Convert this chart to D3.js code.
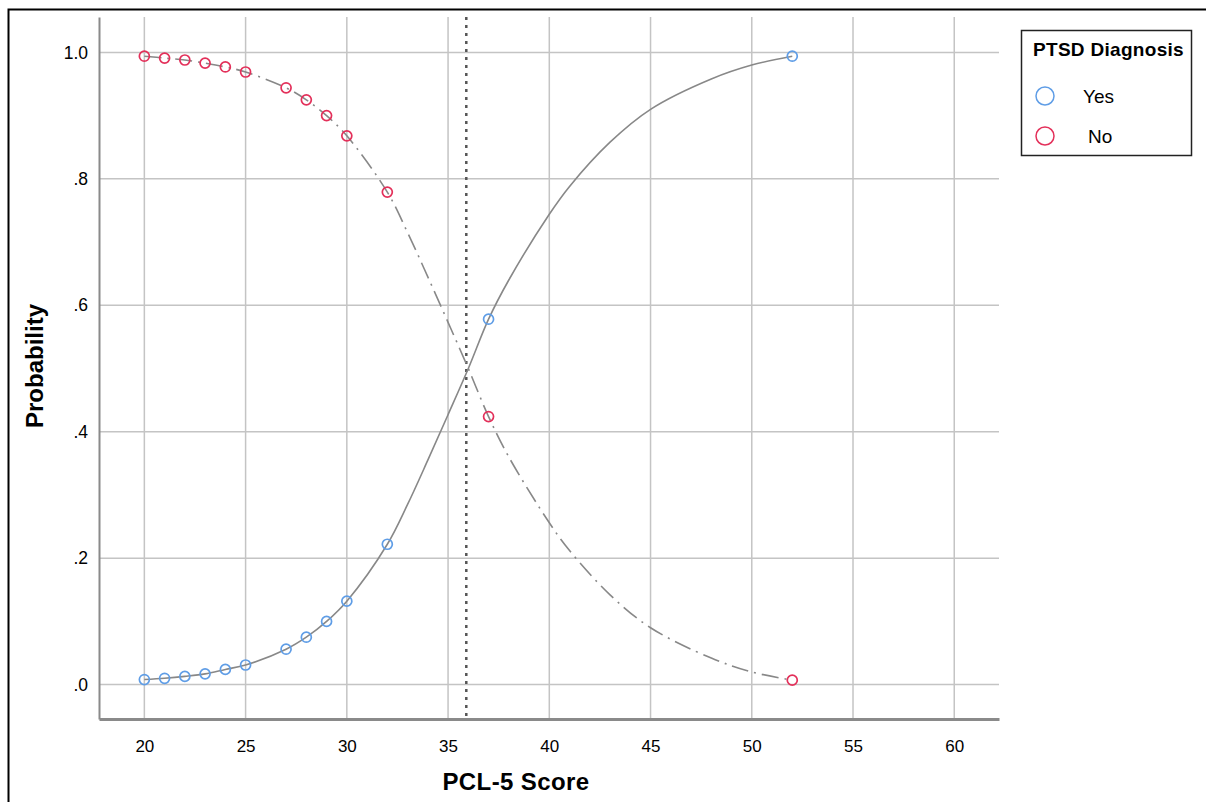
<!DOCTYPE html>
<html>
<head>
<meta charset="utf-8">
<script src="https://cdn.jsdelivr.net/npm/d3@7"></script>
<style>
  body { margin: 0; background: #fff; }
  text { font-family: "Liberation Sans", Arial, sans-serif; fill: #000; }
</style>
</head>
<body>
<svg id="chart" width="1206" height="802"></svg>
<script>
// PCL-5 scores observed
const scores = [20, 21, 22, 23, 24, 25, 27, 28, 29, 30, 32, 37, 52];
// predicted probability, PTSD = Yes
const probYes = [0.008, 0.010, 0.013, 0.017, 0.024, 0.031, 0.056, 0.075, 0.100, 0.132, 0.222, 0.578, 0.994];
// predicted probability, PTSD = No
const probNo = [0.994, 0.991, 0.988, 0.983, 0.977, 0.969, 0.944, 0.925, 0.900, 0.868, 0.779, 0.424, 0.007];

// interpolation lines at these scores
const lineScores = [20, 21, 22, 23, 24, 25, 27, 28, 29, 30, 32, 33, 34, 35, 36, 37, 38, 40, 41, 43, 45, 48, 50, 52];
const lineYes = [0.008, 0.010, 0.013, 0.017, 0.024, 0.031, 0.056, 0.075, 0.100, 0.132, 0.222, 0.285, 0.355, 0.427, 0.500, 0.578, 0.640, 0.744, 0.788, 0.858, 0.910, 0.958, 0.980, 0.994];
const lineNo = [0.994, 0.991, 0.988, 0.983, 0.977, 0.969, 0.944, 0.925, 0.900, 0.868, 0.779, 0.715, 0.645, 0.573, 0.500, 0.424, 0.360, 0.256, 0.212, 0.142, 0.090, 0.042, 0.020, 0.007];

const xTicks = [20, 25, 30, 35, 40, 45, 50, 55, 60];
const yTicks = [0, 0.2, 0.4, 0.6, 0.8, 1.0];
const yTickLabels = [".0", ".2", ".4", ".6", ".8", "1.0"];
const cutoff = 35.9;
const legendItems = ["Yes", "No"];

const margin = { top: 17, right: 207, bottom: 83, left: 99 };
const width = 1206, height = 802;
const blue = "#5f9de6", red = "#e3305a";

const svg = d3.select("#chart");

// outer frame (only top and left edges are visible)
svg.append("rect")
  .attr("x", 8.5).attr("y", 9.5)
  .attr("width", 1300).attr("height", 900)
  .attr("fill", "none").attr("stroke", "#000").attr("stroke-width", 2);

const x = d3.scaleLinear().domain([17.76, 62.21]).range([margin.left, width - margin.right]);
const y = d3.scaleLinear().domain([-0.0544, 1.056]).range([height - margin.bottom, margin.top]);

// grid
const grid = svg.append("g").attr("stroke", "#c4c4c4").attr("stroke-width", 1.5);
grid.selectAll("line.v").data(xTicks).join("line")
  .attr("x1", d => x(d)).attr("x2", d => x(d))
  .attr("y1", y.range()[1]).attr("y2", y.range()[0]);
grid.selectAll("line.h").data(yTicks).join("line")
  .attr("x1", x.range()[0]).attr("x2", x.range()[1])
  .attr("y1", d => y(d)).attr("y2", d => y(d));

// axes
const xAxis = svg.append("g")
  .attr("transform", "translate(0," + y.range()[0] + ")")
  .call(d3.axisBottom(x).tickValues(xTicks).tickSize(0).tickPadding(21).tickFormat(d3.format("d")));
xAxis.select(".domain").attr("stroke", "#8a8a8a").attr("stroke-width", 3);
xAxis.selectAll("text").style("font-size", "17px").attr("fill", "#222");

const yAxis = svg.append("g")
  .attr("transform", "translate(" + x.range()[0] + ",0)")
  .call(d3.axisLeft(y).tickValues(yTicks).tickSize(0).tickPadding(11).tickFormat((d, i) => yTickLabels[i]));
yAxis.select(".domain").attr("stroke", "#8a8a8a").attr("stroke-width", 2);
yAxis.selectAll("text").style("font-size", "17.5px").attr("fill", "#222");

// axis titles
svg.append("text")
  .attr("x", 516).attr("y", 790)
  .attr("text-anchor", "middle")
  .style("font-size", "24px").style("font-weight", "bold").style("letter-spacing", "0.4px")
  .text("PCL-5 Score");
svg.append("text")
  .attr("transform", "translate(43,366) rotate(-90)")
  .attr("text-anchor", "middle")
  .style("font-size", "24px").style("font-weight", "bold")
  .text("Probability");

// cutoff reference line
svg.append("line")
  .attr("x1", x(cutoff)).attr("x2", x(cutoff))
  .attr("y1", y.range()[1]).attr("y2", y.range()[0])
  .attr("stroke", "#555").attr("stroke-width", 2.5)
  .attr("stroke-dasharray", "3,5");

// interpolation lines
const line = d3.line().curve(d3.curveCatmullRom.alpha(0.5));
svg.append("path")
  .attr("d", line(lineScores.map((s, i) => [x(s), y(lineYes[i])])))
  .attr("fill", "none").attr("stroke", "#888").attr("stroke-width", 1.6);
svg.append("path")
  .attr("d", line(lineScores.map((s, i) => [x(s), y(lineNo[i])])))
  .attr("fill", "none").attr("stroke", "#888").attr("stroke-width", 1.6)
  .attr("stroke-dasharray", "17,6,2,6");

// points
svg.append("g").selectAll("circle").data(scores).join("circle")
  .attr("cx", d => x(d)).attr("cy", (d, i) => y(probYes[i])).attr("r", 5)
  .attr("fill", "none").attr("stroke", blue).attr("stroke-width", 1.7);
svg.append("g").selectAll("circle").data(scores).join("circle")
  .attr("cx", d => x(d)).attr("cy", (d, i) => y(probNo[i])).attr("r", 5)
  .attr("fill", "none").attr("stroke", red).attr("stroke-width", 1.7);

// legend
const legend = svg.append("g");
legend.append("rect")
  .attr("x", 1021.5).attr("y", 30.5).attr("width", 170).attr("height", 125)
  .attr("fill", "#fff").attr("stroke", "#222").attr("stroke-width", 1.5);
legend.append("text")
  .attr("x", 1033).attr("y", 56)
  .style("font-size", "19px").style("font-weight", "bold").style("letter-spacing", "0.3px")
  .text("PTSD Diagnosis");
legend.selectAll("g.item").data(legendItems).join("g")
  .attr("transform", (d, i) => "translate(0," + (96 + i * 40) + ")")
  .each(function (d, i) {
    const g = d3.select(this);
    g.append("circle").attr("cx", 1045).attr("cy", 0).attr("r", 9)
      .attr("fill", "none").attr("stroke", i === 0 ? blue : red).attr("stroke-width", 1.5);
    g.append("text").attr("x", i === 0 ? 1083 : 1088).attr("y", 7)
      .style("font-size", "19px").text(d);
  });
</script>
</body>
</html>
